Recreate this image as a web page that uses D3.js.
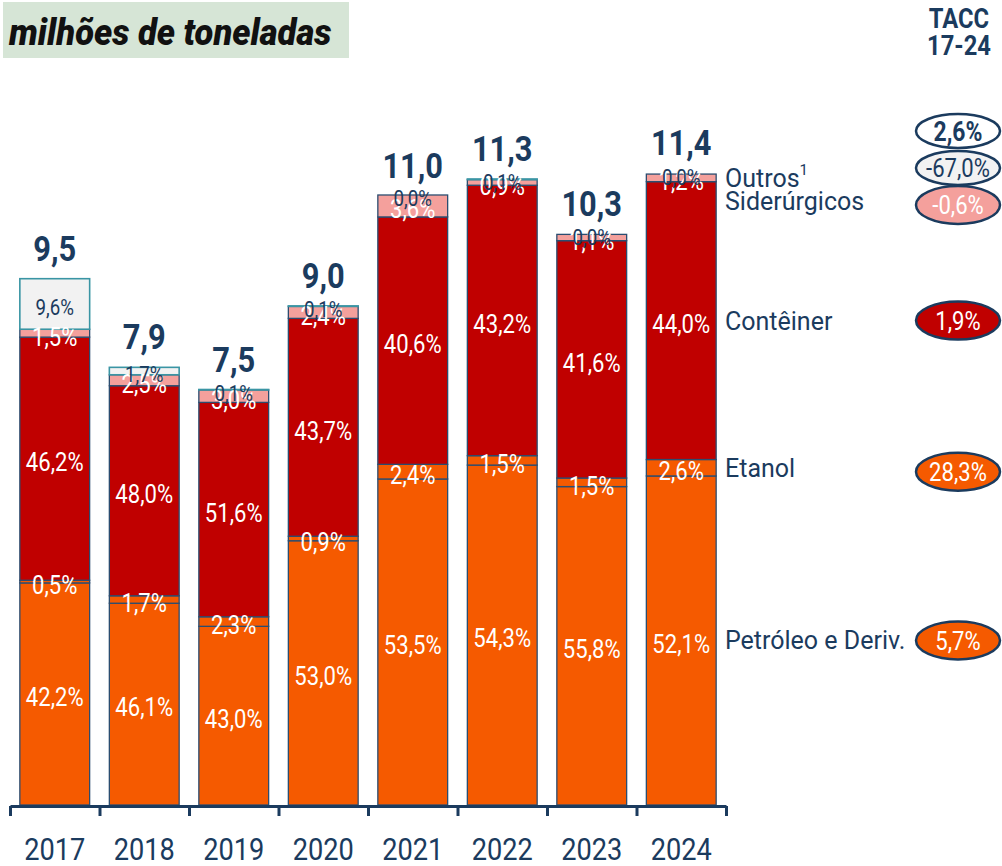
<!DOCTYPE html>
<html>
<head>
<meta charset="utf-8">
<script src="https://cdn.jsdelivr.net/npm/d3@7"></script>
<style>
  body { margin: 0; background: #fff; }
  text { font-family: Roboto, "Noto Sans", sans-serif; }
</style>
</head>
<body>
<script>
// les donnees
const years = ["2017", "2018", "2019", "2020", "2021", "2022", "2023", "2024"];
const totals = [9.5, 7.9, 7.5, 9.0, 11.0, 11.3, 10.3, 11.4];
// parts en % (du bas vers le haut)
const petroleo = [42.2, 46.1, 43.0, 53.0, 53.5, 54.3, 55.8, 52.1];
const etanol = [0.5, 1.7, 2.3, 0.9, 2.4, 1.5, 1.5, 2.6];
const conteiner = [46.2, 48.0, 51.6, 43.7, 40.6, 43.2, 41.6, 44.0];
const siderurgicos = [1.5, 2.5, 3.0, 2.4, 3.6, 0.9, 1.1, 1.2];
const outros = [9.6, 1.7, 0.1, 0.1, 0.0, 0.1, 0.0, 0.0];
const seriesKeys = ["petroleo", "etanol", "conteiner", "siderurgicos", "outros"];
const seriesNames = ["Petróleo e Deriv.", "Etanol", "Contêiner", "Siderúrgicos", "Outros"];
const tacc = [5.7, 28.3, 1.9, -0.6, -67.0];
const taccTotal = 2.6;

const shares = {petroleo, etanol, conteiner, siderurgicos, outros};
const colors = {petroleo: "#f55a00", etanol: "#f55a00", conteiner: "#c00000", siderurgicos: "#f4a09c", outros: "#f2f2f2"};
const navy = "#1b3b5e";
const fmt = v => v.toFixed(1).replace(".", ",");

const svg = d3.select("body").append("svg")
  .attr("width", 1002)
  .attr("height", 866);

// titre
svg.append("rect").attr("x", 3).attr("y", 2).attr("width", 346).attr("height", 56).attr("fill", "#d6e5d6");
svg.append("text")
  .attr("transform", "translate(9,45) scale(0.96,1)")
  .attr("font-size", 36).attr("font-weight", 900).attr("font-style", "italic")
  .attr("fill", "#111")
  .text("milhões de toneladas");

// echelles
const x = d3.scaleBand().domain(years).range([10, 726]).paddingInner(0.22).paddingOuter(0.11);
const y = d3.scaleLinear().domain([0, 12]).range([805, 805 - 12 * 55.4]);

const rows = years.map((yr, i) => {
  const r = {year: yr, total: totals[i]};
  seriesKeys.forEach(k => { r[k] = totals[i] * shares[k][i] / 100; r[k + "_pct"] = shares[k][i]; });
  return r;
});
const stacked = d3.stack().keys(seriesKeys)(rows);

// barres
const gBars = svg.append("g");
stacked.forEach(s => {
  gBars.selectAll(null).data(s).join("rect")
    .attr("x", d => x(d.data.year))
    .attr("y", d => y(d[1]))
    .attr("width", x.bandwidth())
    .attr("height", d => Math.max(0, y(d[0]) - y(d[1])))
    .attr("fill", colors[s.key])
    .attr("stroke", s.key === "outros" ? "#3a95a4" : "#2b4d70")
    .attr("stroke-width", s.key === "outros" ? 1.6 : 1.3);
});

// etiquettes des segments
const gLab = svg.append("g");
stacked.forEach(s => {
  const isOut = s.key === "outros";
  gLab.selectAll(null).data(s).join("text")
    .attr("transform", d => `translate(${x(d.data.year) + x.bandwidth() / 2},${(y(d[0]) + y(d[1])) / 2 + 3}) scale(0.85,1)`)
    .attr("text-anchor", "middle")
    .attr("dy", "0.36em")
    .attr("font-size", isOut ? 22 : 26)
    .attr("fill", isOut ? navy : "#fff")
    .text(d => fmt(d.data[s.key + "_pct"]) + "%");
});

// totaux
svg.append("g").selectAll("text").data(rows).join("text")
  .attr("transform", d => `translate(${x(d.year) + x.bandwidth() / 2},${y(d.total) - 18}) scale(0.88,1)`)
  .attr("text-anchor", "middle")
  .attr("font-size", 35).attr("font-weight", 700)
  .attr("fill", navy)
  .text(d => fmt(d.total));

// axe X
const idx = d3.scaleLinear().domain([0, years.length]).range([10, 726]);
const gAxis = svg.append("g")
  .attr("transform", "translate(0,806)")
  .call(d3.axisBottom(idx).ticks(years.length).tickSize(10).tickSizeOuter(0).tickFormat(""));
gAxis.selectAll("path, line").attr("stroke", navy).attr("stroke-width", 3);

const gYears = svg.append("g")
  .attr("transform", "translate(0,806)")
  .call(d3.axisBottom(x).tickSize(0));
gYears.select(".domain").remove();
gYears.selectAll("text")
  .attr("y", 54).attr("dy", 0)
  .attr("transform", "scale(0.85,1)")
  .attr("font-size", 32)
  .attr("font-family", "Roboto, sans-serif")
  .attr("fill", navy);

// legende + TACC
const last = stacked.map(s => s[s.length - 1]);
const topLast = y(totals[totals.length - 1]);
const legY = [
  (y(last[0][0]) + y(last[0][1])) / 2,
  (y(last[1][0]) + y(last[1][1])) / 2,
  (y(last[2][0]) + y(last[2][1])) / 2,
  topLast + 28,
  topLast + 5
];
const legend = svg.append("g");
seriesNames.forEach((n, i) => {
  const t = legend.append("text")
    .attr("x", 725).attr("y", legY[i]).attr("dy", "0.36em")
    .attr("font-size", 25).attr("fill", navy)
    .text(n);
  if (i === 4) t.append("tspan").attr("font-size", 15).attr("dy", "-0.8em").text("1");
});

svg.append("text").attr("transform", "translate(959,28) scale(0.88,1)")
  .attr("text-anchor", "middle").attr("font-size", 27).attr("font-weight", 700).attr("fill", navy).text("TACC");
svg.append("text").attr("transform", "translate(959,55) scale(0.88,1)")
  .attr("text-anchor", "middle").attr("font-size", 27).attr("font-weight", 700).attr("fill", navy).text("17-24");

const pills = [
  {v: taccTotal, cy: 131, fill: "#fff", txt: navy, bold: true, ry: 17},
  {v: tacc[4], cy: 168, fill: colors.outros, txt: navy, bold: false, ry: 17},
  {v: tacc[3], cy: 205, fill: colors.siderurgicos, txt: "#fff", bold: false, ry: 19},
  {v: tacc[2], cy: legY[2], fill: colors.conteiner, txt: "#fff", bold: false, ry: 19},
  {v: tacc[1], cy: legY[1] + 4, fill: colors.etanol, txt: "#fff", bold: false, ry: 19},
  {v: tacc[0], cy: legY[0], fill: colors.petroleo, txt: "#fff", bold: false, ry: 19}
];
const gP = svg.append("g");
pills.forEach(p => {
  gP.append("ellipse").attr("cx", 958).attr("cy", p.cy).attr("rx", 42).attr("ry", p.ry)
    .attr("fill", p.fill).attr("stroke", navy).attr("stroke-width", 2.5);
  gP.append("text")
    .attr("transform", `translate(958,${p.cy}) scale(0.85,1)`)
    .attr("text-anchor", "middle").attr("dy", "0.36em")
    .attr("font-size", p.bold ? 27 : 26).attr("font-weight", p.bold ? 700 : 400)
    .attr("fill", p.txt)
    .text(fmt(p.v) + "%");
});
</script>
</body>
</html>
